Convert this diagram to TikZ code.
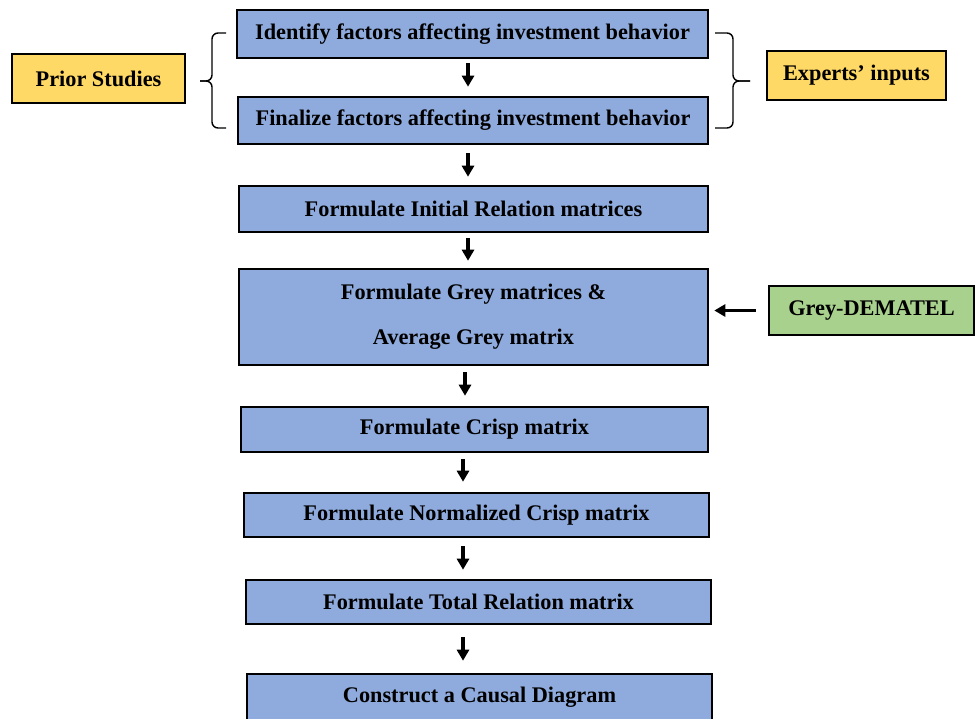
\documentclass[tikz,border=0pt]{standalone}
\usepackage{fontspec}
\setmainfont{Liberation Serif}
\usetikzlibrary{arrows.meta}
\definecolor{boxblue}{HTML}{8FAADC}
\definecolor{boxyellow}{HTML}{FFD966}
\definecolor{boxgreen}{HTML}{A9D18E}
\tikzset{
  base/.style={draw=black, line width=2.6pt, inner sep=0pt, align=center,
    font=\fontsize{22.3}{26}\selectfont\bfseries},
  stepbox/.style={base, fill=boxblue},
  srcbox/.style={base, fill=boxyellow},
  methbox/.style={base, fill=boxgreen},
  arr/.style={line width=3.4pt, -{Triangle[length=11pt,width=12pt]}},
  bracepath/.style={line width=1.4pt, rounded corners=6pt},
}
\begin{document}
\begin{tikzpicture}[x=1pt,y=-1pt]
\useasboundingbox (0,0) rectangle (976,718);
\fill[white] (0,0) rectangle (976,718);
\node[stepbox, minimum width=471pt, minimum height=48pt] (b1) at (472.5,34) {Identify factors affecting investment behavior};
\node[stepbox, minimum width=470pt, minimum height=47pt] (b2) at (473,120.5) {Finalize factors affecting investment behavior};
\node[stepbox, minimum width=469pt, minimum height=46pt] (b3) at (473.5,209) {Formulate Initial Relation matrices};
\node[stepbox, minimum width=469pt, minimum height=96pt] (b4) at (473.5,317) {Formulate Grey matrices \&\\[19pt]Average Grey matrix};
\node[stepbox, minimum width=467pt, minimum height=45pt] (b5) at (474.5,429.5) {Formulate Crisp matrix};
\node[stepbox, minimum width=465pt, minimum height=44pt] (b6) at (476.5,515) {Formulate Normalized Crisp matrix};
\node[stepbox, minimum width=465pt, minimum height=44pt] (b7) at (478.5,602) {Formulate Total Relation matrix};
\node[stepbox, minimum width=465pt, minimum height=46pt] (b8) at (479.5,697) {Construct a Causal Diagram};

\node[srcbox, minimum width=173pt, minimum height=49pt] (ps) at (98.5,78.5) {Prior Studies};
\node[srcbox, minimum width=179pt, minimum height=49pt] (ei) at (856.5,75.5) {Experts' inputs};
\node[methbox, minimum width=205pt, minimum height=49pt] (gd) at (871.5,310.5) {Grey-DEMATEL};

\draw[arr, shorten <=4pt, shorten >=9pt] ([xshift=-4.5pt]b1.south) -- ([xshift=-5pt]b2.north);
\draw[arr, shorten <=8pt, shorten >=8pt] ([xshift=-5pt]b2.south) -- ([xshift=-5.5pt]b3.north);
\draw[arr, shorten <=5pt, shorten >=7pt] ([xshift=-5.5pt]b3.south) -- ([xshift=-5.5pt]b4.north);
\draw[arr, shorten <=6pt, shorten >=10pt] ([xshift=-8.5pt]b4.south) -- ([xshift=-9.5pt]b5.north);
\draw[arr, shorten <=6pt, shorten >=10pt] ([xshift=-11.5pt]b5.south) -- ([xshift=-13.5pt]b6.north);
\draw[arr, shorten <=8pt, shorten >=9pt] ([xshift=-13.5pt]b6.south) -- ([xshift=-15.5pt]b7.north);
\draw[arr, shorten <=12pt, shorten >=12pt] ([xshift=-15.5pt]b7.south) -- ([xshift=-16.5pt]b8.north);
\draw[arr, shorten <=12pt, shorten >=5pt] (gd.west) -- (gd.west -| b4.east);

\coordinate (lt) at (226,33);
\coordinate (lb) at (226,128);
\coordinate (ltip) at (200,81);
\draw[bracepath] (lt) -- (212,33) -- (212,81) -- (ltip);
\draw[bracepath] (lb) -- (212,128) -- (212,81) -- (ltip);
\coordinate (rt) at (715,33);
\coordinate (rb) at (715,128);
\coordinate (rtip) at (750,81);
\draw[bracepath] (rt) -- (733,33) -- (733,81) -- (rtip);
\draw[bracepath] (rb) -- (733,128) -- (733,81) -- (rtip);
\end{tikzpicture}
\end{document}
